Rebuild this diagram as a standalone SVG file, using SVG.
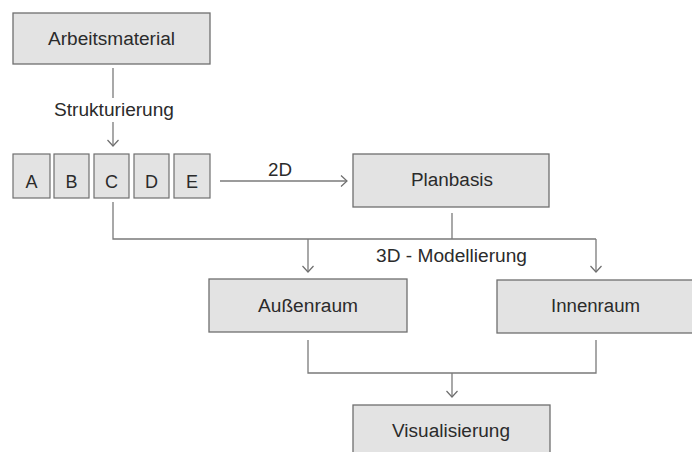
<svg xmlns="http://www.w3.org/2000/svg" width="692" height="452" viewBox="0 0 692 452">
<defs>
<marker id="chev" markerUnits="userSpaceOnUse" markerWidth="14" markerHeight="14" viewBox="-8 -7 10 14" refX="0" refY="0" orient="auto">
<path d="M-6,-5.5 L0,0 L-6,5.5" fill="none" stroke="#6e6e6e" stroke-width="1.2"/>
</marker>
<style>
.box{fill:#e3e3e3;stroke:#6f6f6f;stroke-width:1.3}
.cell{fill:#e3e3e3;stroke:#6f6f6f;stroke-width:1.2}
.lbl{font-family:"Liberation Sans",Arial,sans-serif;font-size:18px;fill:#2b2b2b;text-anchor:middle}
.edge{font-family:"Liberation Sans",Arial,sans-serif;font-size:18px;fill:#2b2b2b}
.ln{fill:none;stroke:#7a7a7a;stroke-width:1.3}
</style>
</defs>
<rect width="692" height="452" fill="#fff"/>
<g id="arbeitsmaterial">
<rect class="box" x="13" y="13" width="197" height="51"/>
<text class="lbl" x="111.5" y="45" textLength="127" lengthAdjust="spacingAndGlyphs">Arbeitsmaterial</text>
</g>
<g id="abcde">
<rect class="cell" x="13" y="154" width="37" height="44"/>
<rect class="cell" x="54" y="154" width="35" height="44"/>
<rect class="cell" x="94" y="154" width="35" height="44"/>
<rect class="cell" x="134" y="154" width="35" height="44"/>
<rect class="cell" x="174" y="154" width="36" height="44"/>
<text class="lbl" x="31.5" y="187.5">A</text>
<text class="lbl" x="71.5" y="187.5">B</text>
<text class="lbl" x="111.5" y="187.5">C</text>
<text class="lbl" x="151.5" y="187.5">D</text>
<text class="lbl" x="192" y="187.5">E</text>
</g>
<g id="planbasis">
<rect class="box" x="353" y="154" width="196" height="53"/>
<text class="lbl" x="452" y="186" textLength="82" lengthAdjust="spacingAndGlyphs">Planbasis</text>
</g>
<g id="aussenraum">
<rect class="box" x="209" y="279" width="198" height="53"/>
<text class="lbl" x="308" y="312" textLength="100" lengthAdjust="spacingAndGlyphs">Außenraum</text>
</g>
<g id="innenraum">
<rect class="box" x="497" y="280" width="200" height="53"/>
<text class="lbl" x="595.5" y="312" textLength="89" lengthAdjust="spacingAndGlyphs">Innenraum</text>
</g>
<g id="visualisierung">
<rect class="box" x="353" y="405" width="197" height="60"/>
<text class="lbl" x="451" y="437" textLength="118" lengthAdjust="spacingAndGlyphs">Visualisierung</text>
</g>
<g id="connectors">
<path class="ln" d="M113,68 V98"/>
<path class="ln" d="M113,122 V146" marker-end="url(#chev)"/>
<text class="lbl" x="114" y="116" textLength="120" lengthAdjust="spacingAndGlyphs">Strukturierung</text>
<path class="ln" d="M220,181 H347" marker-end="url(#chev)"/>
<text class="lbl" x="280" y="176" textLength="24" lengthAdjust="spacingAndGlyphs">2D</text>
<path class="ln" d="M113,202 V239 H596"/>
<path class="ln" d="M452,213 V239"/>
<path class="ln" d="M308,239 V272" marker-end="url(#chev)"/>
<path class="ln" d="M596,239 V272" marker-end="url(#chev)"/>
<text class="edge" x="376" y="262" textLength="151" lengthAdjust="spacingAndGlyphs">3D - Modellierung</text>
<path class="ln" d="M308,340 V373 H596 V340"/>
<path class="ln" d="M452,373 V397" marker-end="url(#chev)"/>
</g>
</svg>
